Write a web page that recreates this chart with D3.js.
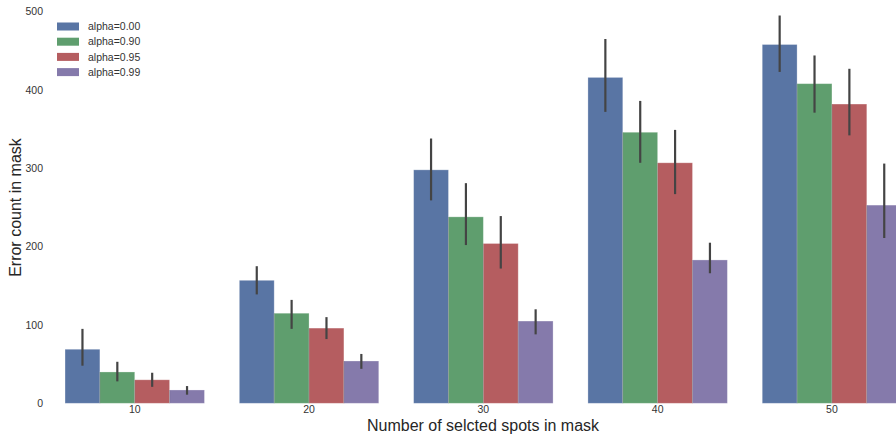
<!DOCTYPE html>
<html>
<head>
<meta charset="utf-8">
<script src="https://cdn.jsdelivr.net/npm/d3@7"></script>
<style>
  html, body { margin: 0; padding: 0; background: #ffffff; }
  svg { display: block; font-family: "Liberation Sans", Arial, sans-serif; }
</style>
</head>
<body>
<svg id="chart" width="896" height="434"></svg>
<script>
const categories = ["10", "20", "30", "40", "50"];
const seriesNames = ["alpha=0.00", "alpha=0.90", "alpha=0.95", "alpha=0.99"];
const seriesColors = ["#5975a4", "#5f9e6e", "#b55d60", "#857aab"];
const values = [
  [69, 157, 298, 416, 458],
  [40, 115, 238, 346, 408],
  [30, 96, 204, 307, 382],
  [17, 54, 105, 183, 253]
];
const errLow = [
  [48, 139, 259, 372, 423],
  [28, 95, 202, 307, 371],
  [21, 82, 172, 267, 342],
  [11, 44, 88, 166, 211]
];
const errHigh = [
  [95, 175, 338, 465, 495],
  [53, 132, 281, 386, 444],
  [39, 110, 239, 349, 427],
  [22, 63, 120, 205, 306]
];
const yTicks = [0, 100, 200, 300, 400, 500];

const svg = d3.select("#chart");

const x = d3.scaleBand().domain(categories).range([47.6, 919.1]).paddingInner(0.2).paddingOuter(0.1);
const xs = d3.scaleBand().domain(d3.range(seriesNames.length)).range([0, x.bandwidth()]);
const y = d3.scaleLinear().domain([0, 500]).range([403.3, 11.6]);

const rows = [];
seriesNames.forEach((s, si) => {
  categories.forEach((c, ci) => {
    rows.push({ si, c, v: values[si][ci], lo: errLow[si][ci], hi: errHigh[si][ci] });
  });
});

const g = svg.append("g");
g.selectAll("rect.bar").data(rows).enter().append("rect")
  .attr("class", "bar")
  .attr("x", d => x(d.c) + xs(d.si))
  .attr("width", xs.bandwidth())
  .attr("y", d => y(d.v))
  .attr("height", d => y(0) - y(d.v))
  .attr("fill", d => seriesColors[d.si])
  .attr("stroke", "rgba(255,255,255,0.35)")
  .attr("stroke-width", 0.8);

g.selectAll("line.sep").data(rows.filter(d => d.si > 0)).enter().append("line")
  .attr("x1", d => x(d.c) + xs(d.si))
  .attr("x2", d => x(d.c) + xs(d.si))
  .attr("y1", d => y(Math.min(d.v, values[d.si - 1][categories.indexOf(d.c)])))
  .attr("y2", y(0))
  .attr("stroke", "rgba(0,0,0,0.25)")
  .attr("stroke-width", 0.8);

g.selectAll("line.err").data(rows).enter().append("line")
  .attr("class", "err")
  .attr("x1", d => x(d.c) + xs(d.si) + xs.bandwidth() / 2)
  .attr("x2", d => x(d.c) + xs(d.si) + xs.bandwidth() / 2)
  .attr("y1", d => y(d.lo))
  .attr("y2", d => y(d.hi))
  .attr("stroke", "#444444")
  .attr("stroke-width", 2.2);

const yAxis = d3.axisLeft(y).tickValues(yTicks).tickSize(0).tickPadding(0);
const ya = svg.append("g").attr("transform", "translate(43,0)").call(yAxis);
ya.select(".domain").remove();
ya.selectAll("text").attr("font-size", 10.5).attr("fill", "#333333").attr("font-family", "Liberation Sans, Arial, sans-serif");

const xAxis = d3.axisBottom(x).tickSize(0).tickPadding(0);
const xa = svg.append("g").attr("transform", "translate(0,406)").call(xAxis);
xa.select(".domain").remove();
xa.selectAll("text").attr("font-size", 10.5).attr("fill", "#333333").attr("font-family", "Liberation Sans, Arial, sans-serif");

svg.append("text")
  .attr("x", 483).attr("y", 431)
  .attr("text-anchor", "middle")
  .attr("font-size", 16).attr("fill", "#262626")
  .text("Number of selcted spots in mask");

svg.append("text")
  .attr("transform", "translate(21,207.5) rotate(-90)")
  .attr("text-anchor", "middle")
  .attr("font-size", 16).attr("fill", "#262626")
  .text("Error count in mask");

const lg = svg.append("g");
seriesNames.forEach((s, i) => {
  const yy = 26.5 + i * 15.2;
  lg.append("rect").attr("x", 57).attr("y", yy - 4).attr("width", 22).attr("height", 8)
    .attr("fill", seriesColors[i]);
  lg.append("text").attr("x", 88).attr("y", yy).attr("dy", "0.35em")
    .attr("font-size", 10.5).attr("fill", "#333333").text(s);
});
</script>
</body>
</html>
